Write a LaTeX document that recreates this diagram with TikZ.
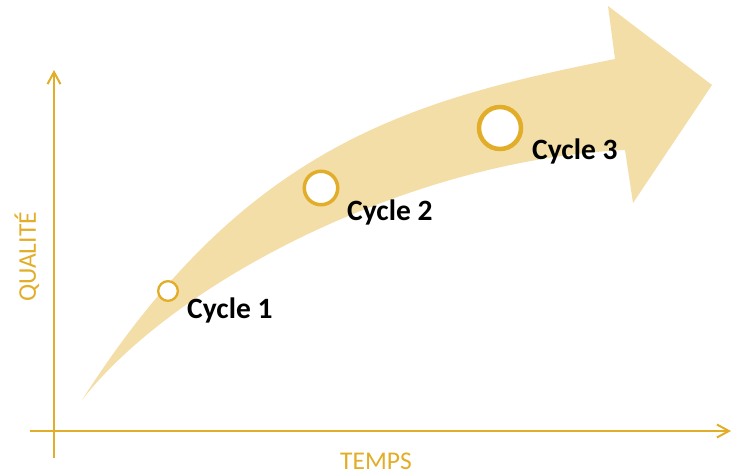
\documentclass[tikz,border=0pt]{standalone}
\usepackage{fontspec}
\setmainfont{Carlito}
\usetikzlibrary{arrows.meta}
\definecolor{gold}{HTML}{E2AE29}
\definecolor{sand}{HTML}{F4DEA8}
\begin{document}
\begin{tikzpicture}[x=1pt,y=-1pt,
	axis/.style={gold, line width=2.5pt, -{Straight Barb[length=12pt,width=13pt,line width=2pt]}},
	axlabel/.style={gold, inner sep=0pt, font=\fontsize{25.5}{26}\selectfont},
	ring/.style={circle, draw=gold, fill=white, inner sep=0pt},
	cyclabel/.style={anchor=base west, inner sep=0pt, font=\fontsize{29.5}{30}\selectfont\bfseries}]
	\useasboundingbox (0,0) rectangle (731,475);
	% Arrow
	\fill [sand] (82,400) .. controls (245,145) and (410,100) .. (615,59) -- (608,6) -- (712,85) -- (633,203) -- (625,150) .. controls (410,160) and (175,281) .. cycle;
	% Axes
	\coordinate (ybot) at (54,458);
	\coordinate (ytop) at (54,70);
	\coordinate (xleft) at (30,431);
	\coordinate (xright) at (731,431);
	\draw [axis] (ybot) -- (ytop);
	\draw [axis] (xleft) -- (xright);
	\node [axlabel, rotate=90] (quality) at (27,257) {QUALITÉ};
	\node [axlabel, anchor=base] (time) at (376,469) {TEMPS};
	% Cycles
	\node [ring, minimum size=19.7pt, line width=2.3pt] (c1) at (168,291) {};
	\node [ring, minimum size=33.5pt, line width=3.5pt] (c2) at (321,188) {};
	\node [ring, minimum size=42pt, line width=4.5pt] (c3) at (500,128) {};
	\node [cyclabel] (lab1) at (187,318) {Cycle 1};
	\node [cyclabel] (lab2) at (347,220) {Cycle 2};
	\node [cyclabel] (lab3) at (532,159) {Cycle 3};
\end{tikzpicture}
\end{document}
